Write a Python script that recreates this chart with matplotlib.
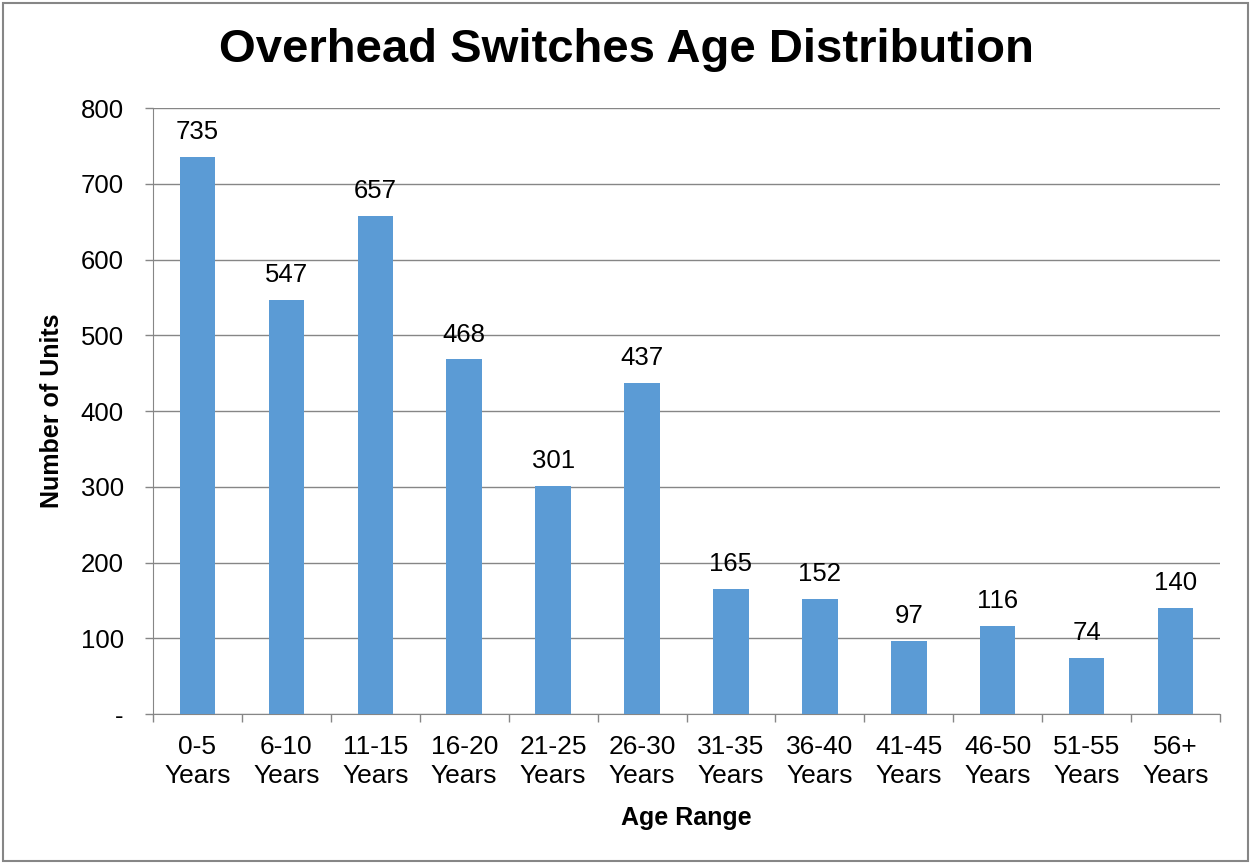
import matplotlib.pyplot as plt
import numpy as np

plt.rcParams['font.family'] = ['Liberation Sans', 'DejaVu Sans']

# Age ranges and unit counts
categories = ['0-5\nYears', '6-10\nYears', '11-15\nYears', '16-20\nYears', '21-25\nYears',
              '26-30\nYears', '31-35\nYears', '36-40\nYears', '41-45\nYears', '46-50\nYears',
              '51-55\nYears', '56+\nYears']
units = [735, 547, 657, 468, 301, 437, 165, 152, 97, 116, 74, 140]
yticks = [0, 100, 200, 300, 400, 500, 600, 700, 800]
ytick_labels = ['-', '100', '200', '300', '400', '500', '600', '700', '800']

fig = plt.figure(figsize=(12.5, 8.64), dpi=100)
ax = fig.add_axes([0.1224, 0.1736, 0.8536, 0.7014])

x = np.arange(len(categories))
ax.bar(x, units, width=0.4, color='#5B9BD5', zorder=3)

for xi, v in zip(x, units):
    ax.text(xi, v + 17, str(v), ha='center', va='bottom', fontsize=18.5, color='black')

ax.set_xlim(-0.5, len(categories) - 0.5)
ax.set_ylim(0, 800)
ax.set_yticks(yticks)
ax.set_yticklabels(ytick_labels, fontsize=18.5)
ax.set_xticks(x)
ax.set_xticklabels(categories, fontsize=19, linespacing=1.25)
ax.tick_params(axis='x', which='major', length=0, pad=15)
ax.set_xticks(np.arange(-0.5, len(categories)), minor=True)
ax.tick_params(axis='x', which='minor', length=6, color='#868686', width=1)
ax.tick_params(axis='y', length=6, color='#868686', width=1, pad=15)

ax.grid(axis='y', color='#868686', linewidth=1, zorder=0)
for side in ['top', 'right']:
    ax.spines[side].set_visible(False)
ax.spines['left'].set_color('#868686')
ax.spines['bottom'].set_color('#868686')

fig.text(0.5008, 1 - 50 / 864, 'Overhead Switches Age Distribution', fontsize=34,
         fontweight='bold', ha='center', va='center')
ax.set_xlabel('Age Range', fontsize=18, fontweight='bold', labelpad=13)
ax.set_ylabel('Number of Units', fontsize=18, fontweight='bold', labelpad=12)

# outer chart border
fig.patches.append(plt.Rectangle((0.002, 0.003), 0.996, 0.994, transform=fig.transFigure,
                                 fill=False, edgecolor='#868686', linewidth=1.5))

fig.savefig('out.png', dpi=100)
